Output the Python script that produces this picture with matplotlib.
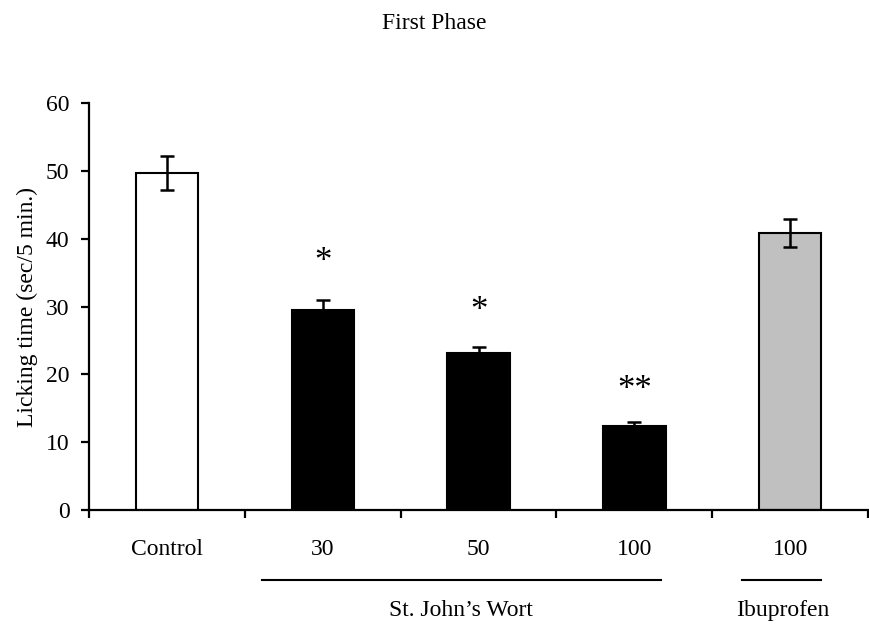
import matplotlib.pyplot as plt
from matplotlib.lines import Line2D

plt.rcParams['font.family'] = ['Liberation Serif', 'DejaVu Serif']

# data
groups = ['Control', '30', '50', '100', '100']
licking = [49.7, 29.5, 23.1, 12.4, 40.8]
sem = [2.5, 1.4, 1.0, 0.5, 2.1]
colors = ['white', 'black', 'black', 'black', '#c0c0c0']
stars = ['', '*', '*', '**', '']
star_y = [0, 36.5, 29.3, 17.6, 0]

fig = plt.figure(figsize=(8.69, 6.27), dpi=100)
ax = fig.add_axes([0.1024, 0.1866, 0.8966, 0.6491])

x = list(range(len(groups)))
ax.bar(x, licking, width=0.40, color=colors, edgecolor='black', linewidth=1.5, zorder=2)
ax.errorbar(x, licking, yerr=sem, fmt='none', ecolor='black', elinewidth=1.8,
            capsize=5, capthick=1.8, zorder=3)

for xi, s, sy in zip(x, stars, star_y):
    if s:
        ax.text(xi, sy, s, ha='center', va='center', fontsize=25)

ax.set_xlim(-0.5, 4.5)
ax.set_ylim(0, 60)
ax.set_yticks(range(0, 61, 10))
ax.spines['top'].set_visible(False)
ax.spines['right'].set_visible(False)
ax.spines['left'].set_linewidth(1.6)
ax.spines['bottom'].set_linewidth(1.6)

ax.set_xticks(x)
ax.set_xticklabels(groups)
ax.set_xticks([i - 0.5 for i in range(len(groups) + 1)], minor=True)
ax.tick_params(axis='x', which='major', length=0, pad=21, labelsize=17)
ax.tick_params(axis='x', which='minor', direction='out', length=6, width=1.6)
ax.tick_params(axis='y', direction='out', length=6, width=1.6, pad=8, labelsize=17)

ax.set_ylabel('Licking time (sec/5 min.)', fontsize=17, labelpad=6)
fig.suptitle('First Phase', fontsize=17, y=0.979)

# group lines and labels under the axis
tr = ax.get_xaxis_transform()
for x0, x1, label, xc in [(0.61, 3.17, 'St. John\u2019s Wort', 1.89),
                          (3.69, 4.20, 'Ibuprofen', 3.95)]:
    ax.add_line(Line2D([x0, x1], [-0.172, -0.172], transform=tr, color='black',
                       linewidth=1.5, clip_on=False))
    ax.text(xc, -0.248, label, transform=tr, ha='center', va='center', fontsize=17)

fig.savefig('out.png', dpi=100)
